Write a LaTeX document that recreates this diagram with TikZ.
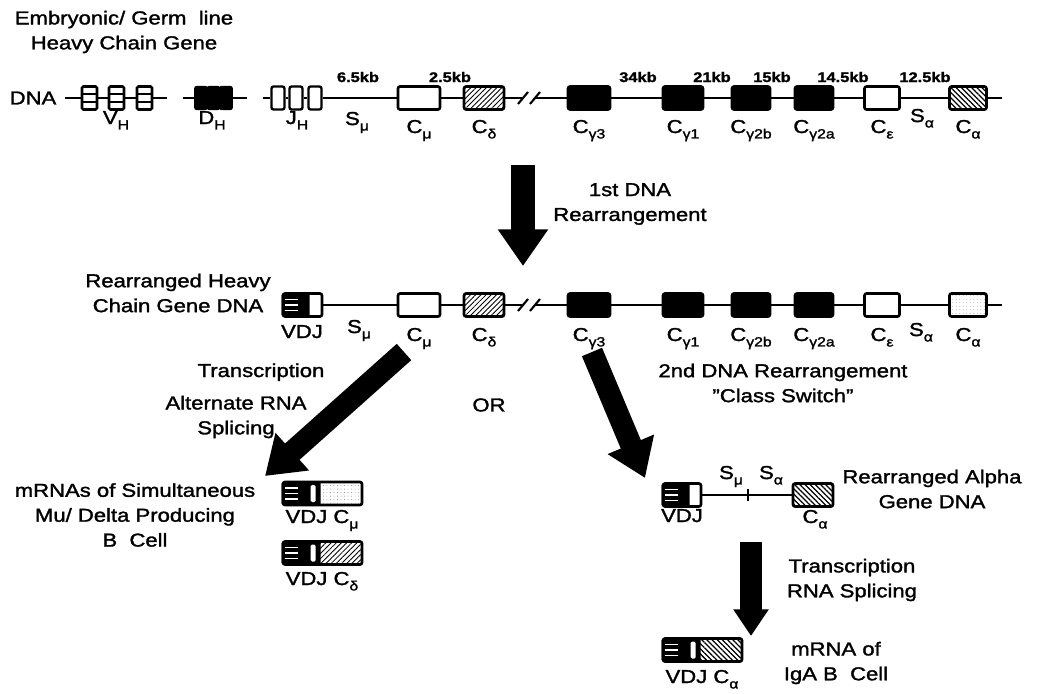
\documentclass[tikz,border=0pt]{standalone}
\usepackage{fontspec}
\setmainfont{Liberation Sans}[FakeStretch=1.18,FakeBold=1.6]
\usetikzlibrary{positioning,arrows.meta,patterns,patterns.meta,calc}

\newcommand\lab{\fontsize{13.3}{17.7}\selectfont}
\newcommand\kbf{\fontsize{9.9}{11}\selectfont\bfseries}
\newcommand\sbs[1]{\raisebox{-0.55ex}{\fontsize{9.5}{10}\selectfont #1}}

% dark striped VDJ end of a box
\newcommand\vdjpart[2]{%
  \fill[rounded corners=1pt] ($(#1.west)+(0,-11.5)$) rectangle ($(#1.west)+(#2,11.5)$);
  \foreach \dy in {-5.5,0,5.5}
    \draw[white,line width=1.4pt] ($(#1.west)+(3,\dy)$) -- ++(13,0);
}

\tikzset{
  every node/.style={font=\lab,inner sep=0pt},
  dna/.style={line width=1.5pt},
  gbox/.style={draw,line width=1.9pt,rounded corners=1.5pt,minimum height=0.575cm,minimum width=#1},
  gbox/.default=1cm,
  vbox/.style={draw,fill=white,line width=1.8pt,rounded corners=1pt,minimum width=0.375cm,minimum height=0.575cm},
  dbox/.style={draw,fill=black,line width=1pt,rounded corners=1.5pt,minimum width=0.31cm,minimum height=0.575cm},
  jbox/.style={draw,fill=white,line width=1.7pt,rounded corners=1.5pt,minimum width=0.325cm,minimum height=0.575cm},
  wfill/.style={fill=white},
  bfill/.style={fill=black},
  dfill/.style={pattern={Lines[angle=45,distance=2.6pt,line width=0.6pt]}},
  afill/.style={pattern={Lines[angle=-45,distance=2.6pt,line width=0.9pt]}},
  sfill/.style={pattern={Dots[distance=2.5pt,radius=0.3pt]},pattern color=gray},
  kbl/.style={font=\kbf,anchor=base},
  bigarrow/.style={line width=#1,-{Triangle[length=26pt,width=34pt]}},
}

\begin{document}
\begin{tikzpicture}[x=0.025cm,y=-0.025cm]
\useasboundingbox (0,0) rectangle (1042,693);

% titles
\node[align=center] (title) at (124,32) {Embryonic/ Germ\ \ line\\Heavy Chain Gene};
\node (dnalbl) at (33,98) {DNA};

% germ line DNA: V, D and J segments
\coordinate (v0) at (65,98); \coordinate (v1) at (167,98);
\coordinate (d0) at (183,98); \coordinate (d1) at (247,98);
\coordinate (j0) at (263,98);
\foreach \i/\x in {1/89.5,2/116.5,3/144.5}{
  \node[vbox] (vh\i) at (\x,98) {};
  \draw[line width=1.6pt] ($(vh\i.west)+(0,-4)$) -- ($(vh\i.east)+(0,-4)$)
                          ($(vh\i.west)+(0,4)$) -- ($(vh\i.east)+(0,4)$);
}
\foreach \i/\x in {1/201,2/213.5,3/226}
  \node[dbox] (dh\i) at (\x,98) {};
\foreach \i/\x in {1/278,2/296,3/315}
  \node[jbox] (jh\i) at (\x,98) {};
\draw[dna] (v0) -- (vh1) -- (vh2) -- (vh3) -- (v1);
\draw[dna] (d0) -- (dh1) (dh3) -- (d1);

% constant genes, germ line and rearranged
\foreach \nm/\x/\w/\f/\g in {cmu/419/1.05/wfill/wfill, cdel/484/1/dfill/dfill, cg3/589/1.05/bfill/bfill,
                            cg1/683/1/bfill/bfill, cg2b/751/0.95/bfill/bfill, cg2a/814/0.95/bfill/bfill,
                            ceps/882/0.875/wfill/wfill, calp/968/0.925/afill/sfill}{
  \node[gbox=\w cm,\f] (\nm1) at (\x,98) {};
  \node[gbox=\w cm,\g] (\nm2) at (\x,305) {};
}
\coordinate (br1a) at (522,98); \coordinate (br1b) at (535,98); \coordinate (e1) at (1002,98);
\draw[dna] (j0) -- (jh1) -- (jh2) -- (jh3) -- (cmu1) -- (cdel1) -- (br1a);
\draw[dna] (br1b) -- (cg31) -- (cg11) -- (cg2b1) -- (cg2a1) -- (ceps1) -- (calp1) -- (e1);
\draw[dna] ($(br1a)+(-4,6)$) -- ++(10,-12) ($(br1b)+(-5,6)$) -- ++(10,-12);

% labels, germ line
\node[anchor=base] (vhl) at (116,124) {V\sbs{H}};
\node[anchor=base] (dhl) at (212,124) {D\sbs{H}};
\node[anchor=base] (jhl) at (297,124) {J\sbs{H}};
\foreach \x/\t in {358/6.5kb,450/2.5kb,638/34kb,712/21kb,772/15kb,843/14.5kb,925/12.5kb}
  \node[kbl] (kb\x) at (\x,82) {\t};
\foreach \nm/\x/\s in {cmu/419/μ, cdel/484/δ, cg3/589/γ3, cg1/683/γ1, cg2b/751/γ2b, cg2a/814/γ2a, ceps/882/ε, calp/968/α}{
  \node[anchor=base] (\nm-t) at (\x,133) {C\sbs{\s}};
  \node[anchor=base] (\nm-b) at (\x,341) {C\sbs{\s}};
}
\node[anchor=base] (smu1) at (357,125) {S\sbs{μ}};
\node[anchor=base] (salp1) at (922,122) {S\sbs{α}};

% first rearrangement
\coordinate (a1s) at (523,165); \coordinate (a1e) at (523,266);
\draw[bigarrow=17pt] (a1s) -- (a1e);
\node[align=center] (rear1) at (630,204) {1st DNA\\Rearrangement};

% rearranged heavy chain DNA
\node[align=center] (rhc) at (178,293) {Rearranged Heavy\\Chain Gene DNA};
\node[gbox=0.975cm,wfill] (vdj2) at (302.5,305) {};
\vdjpart{vdj2}{28}
\coordinate (br2a) at (522,305); \coordinate (br2b) at (535,305); \coordinate (e2) at (1002,305);
\draw[dna] (vdj2) -- (cmu2) -- (cdel2) -- (br2a);
\draw[dna] (br2b) -- (cg32) -- (cg12) -- (cg2b2) -- (cg2a2) -- (ceps2) -- (calp2) -- (e2);
\draw[dna] ($(br2a)+(-4,6)$) -- ++(10,-12) ($(br2b)+(-5,6)$) -- ++(10,-12);
\node[anchor=base] (vdj2-t) at (302,338) {VDJ};
\node[anchor=base] (smu2) at (359,333) {S\sbs{μ}};
\node[anchor=base] (salp2) at (921,336) {S\sbs{α}};

% two ways on
\node[anchor=base] (trl) at (261,377) {Transcription};
\node[align=center] (alt) at (236,417) {Alternate RNA\\Splicing};
\node (ortxt) at (489,405) {OR};
\node[align=center] (rear2) at (783,383) {2nd DNA Rearrangement\\''Class Switch''};
\coordinate (a2s) at (404,352); \coordinate (a2e) at (265,476);
\draw[bigarrow=15.5pt] (a2s) -- (a2e);
\coordinate (a3s) at (592,352); \coordinate (a3e) at (645,478);
\draw[bigarrow=15.5pt] (a3s) -- (a3e);

% mu/delta mRNAs
\node[align=center] (mud) at (135,515) {mRNAs of Simultaneous\\Mu/ Delta Producing\\B\ \ Cell};
\foreach \nm/\x/\y/\f in {mmu/322.5/493.5/sfill, mdel/322.5/553/dfill, malp/702.5/650/afill}{
  \node[gbox=1.975cm,\f] (\nm) at (\x,\y) {};
  \vdjpart{\nm}{39}
  \fill[white,rounded corners=1pt] ($(\nm.west)+(29,-8.5)$) rectangle ($(\nm.west)+(34,8.5)$);
}
\node[anchor=base] (mmu-t) at (322,523) {VDJ C\sbs{μ}};
\node[anchor=base] (mdel-t) at (322,585) {VDJ C\sbs{δ}};

% rearranged alpha DNA
\node[align=center] (ral) at (932,489) {Rearranged Alpha\\Gene DNA};
\node[gbox=0.95cm,wfill] (vdj3) at (682,495) {};
\vdjpart{vdj3}{28}
\node[gbox=1cm,afill] (calp3) at (813,495) {};
\draw[dna] (vdj3) -- (calp3);
\coordinate (sw) at (748,495);
\draw[dna] ($(sw)+(0,-6)$) -- ($(sw)+(0,6)$);
\node[anchor=base] (vdj3-t) at (682,522) {VDJ};
\node[anchor=base] (smu3) at (731,479) {S\sbs{μ}};
\node[anchor=base] (salp3) at (771,479) {S\sbs{α}};
\node[anchor=base] (calp3-t) at (815,523) {C\sbs{α}};

% IgA mRNA
\coordinate (a4s) at (751,542); \coordinate (a4e) at (751,636);
\draw[bigarrow=15pt,-{Triangle[length=19pt,width=24pt]}] (a4s) -- (a4e);
\node[align=center] (trr) at (852,580) {Transcription\\RNA Splicing};
\node[anchor=base] (malp-t) at (702,683) {VDJ C\sbs{α}};
\node[align=center] (iga) at (836,663) {mRNA of\\IgA B\ \ Cell};
\end{tikzpicture}
\end{document}
